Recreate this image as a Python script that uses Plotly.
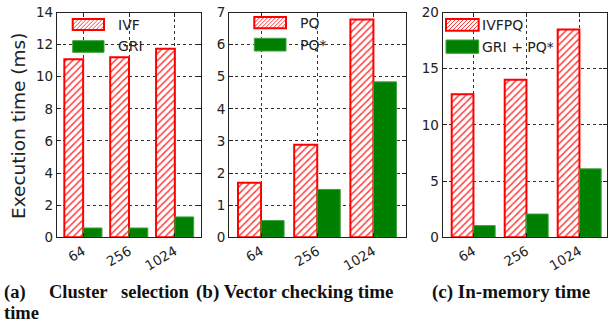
import plotly.graph_objects as go

W, H = 610, 326

categories = ["64", "256", "1024"]

ivf = [11.09, 11.22, 11.74]
gri = [0.58, 0.58, 1.27]

pq = [1.70, 2.88, 6.78]
pq_star = [0.52, 1.49, 4.84]

ivfpq = [12.72, 14.02, 18.49]
gri_pq = [1.04, 2.07, 6.09]

panels = [
    dict(a=ivf, b=gri, na="IVF", nb="GRI", yr=[0, 14], dt=2,
         dom=(57, 201), xr=[-0.57, 2.57],
         leg=dict(x0=72.7, x1=104, ya=(19, 30), yb=(40.7, 52.3), tx=115.7)),
    dict(a=pq, b=pq_star, na="PQ", nb="PQ*", yr=[0, 7], dt=1,
         dom=(229.3, 406), xr=[-0.565, 2.58],
         leg=dict(x0=254.3, x1=286, ya=(17, 28.3), yb=(38.3, 51), tx=297.7)),
    dict(a=ivfpq, b=gri_pq, na="IVFPQ", nb="GRI + PQ*", yr=[0, 20], dt=5,
         dom=(442.7, 607), xr=[-0.58, 2.52],
         leg=dict(x0=446, x1=478.7, ya=(19, 30.7), yb=(40, 53.3), tx=479.5)),
]

RED = "#ff0000"
GREEN = "#008000"
GREEN_EDGE = "#3da03d"
TICKFONT = dict(family="DejaVu Sans", size=13.5, color="#222")

fig = go.Figure()
shapes = []
annotations = []


def px(x):
    return x / W


def py(y):
    return 1 - y / H


def hatch_path(x0, y0, x1, y1, step=4.0):
    segs = []
    c = x0 + y0 + step / 2
    while c < x1 + y1:
        xa = max(x0, c - y1)
        xb = min(x1, c - y0)
        if xb > xa:
            segs.append(f"M{px(xa):.5f},{py(c - xa):.5f} L{px(xb):.5f},{py(c - xb):.5f}")
        c += step
    return " ".join(segs)


y_top, y_bot = 12.5, 237.3

for i, p in enumerate(panels, start=1):
    xa = "x" if i == 1 else f"x{i}"
    ya = "y" if i == 1 else f"y{i}"
    fig.add_trace(go.Bar(
        x=categories, y=p["a"], name=p["na"], xaxis=xa, yaxis=ya,
        marker=dict(color="white", line=dict(color=RED, width=2),
                    pattern=dict(shape="/", fgcolor=RED, bgcolor="white",
                                 size=5, solidity=0.3, fgopacity=0.75)),
        showlegend=False,
    ))
    fig.add_trace(go.Bar(
        x=categories, y=p["b"], name=p["nb"], xaxis=xa, yaxis=ya,
        marker=dict(color=GREEN, line=dict(color=GREEN_EDGE, width=1)),
        showlegend=False,
    ))
    axcommon = dict(showline=True, linecolor="#222", linewidth=1.3, mirror="ticks",
                    ticks="inside", ticklen=4, tickcolor="#222",
                    showgrid=True, gridcolor="#333", griddash="dot", gridwidth=1,
                    zeroline=False, automargin=False, tickfont=TICKFONT)
    xkey = "xaxis" if i == 1 else f"xaxis{i}"
    ykey = "yaxis" if i == 1 else f"yaxis{i}"
    fig.update_layout({
        xkey: dict(domain=[px(p["dom"][0]), px(p["dom"][1])], anchor=ya,
                   type="category", range=p["xr"], tickangle=-30, **axcommon),
        ykey: dict(domain=[py(y_bot), py(y_top)], anchor=xa,
                   range=p["yr"], dtick=p["dt"], **axcommon),
    })
    L = p["leg"]
    # hatched legend patch
    shapes.append(dict(type="rect", xref="paper", yref="paper",
                       x0=px(L["x0"]), x1=px(L["x1"]), y0=py(L["ya"][1]), y1=py(L["ya"][0]),
                       fillcolor="white", line=dict(width=0)))
    shapes.append(dict(type="path", xref="paper", yref="paper",
                       path=hatch_path(L["x0"], L["ya"][0], L["x1"], L["ya"][1]),
                       line=dict(color=RED, width=1), opacity=0.75))
    shapes.append(dict(type="rect", xref="paper", yref="paper",
                       x0=px(L["x0"]), x1=px(L["x1"]), y0=py(L["ya"][1]), y1=py(L["ya"][0]),
                       fillcolor="rgba(0,0,0,0)", line=dict(color=RED, width=2)))
    shapes.append(dict(type="rect", xref="paper", yref="paper",
                       x0=px(L["x0"]), x1=px(L["x1"]), y0=py(L["yb"][1]), y1=py(L["yb"][0]),
                       fillcolor=GREEN, line=dict(color=GREEN_EDGE, width=1)))
    annotations.append(dict(text=p["na"], xref="paper", yref="paper", showarrow=False,
                            x=px(L["tx"]), y=py((L["ya"][0] + L["ya"][1]) / 2),
                            xanchor="left", yanchor="middle",
                            font=dict(family="DejaVu Sans", size=14, color="#222")))
    annotations.append(dict(text=p["nb"], xref="paper", yref="paper", showarrow=False,
                            x=px(L["tx"]), y=py((L["yb"][0] + L["yb"][1]) / 2),
                            xanchor="left", yanchor="middle",
                            font=dict(family="DejaVu Sans", size=14, color="#222")))

# y-axis title
annotations.append(dict(text="Execution time (ms)", xref="paper", yref="paper", showarrow=False,
                        x=px(18), y=py(126), textangle=-90, xanchor="center", yanchor="middle",
                        font=dict(family="DejaVu Sans", size=18.5, color="#222")))

# captions
CAP = dict(family="Liberation Serif", size=18.5, color="#111")
captions = [
    ("(a)", 2, 292, "left"),
    ("Cluster", 47, 292, "left"),
    ("selection", 192, 292, "right"),
    ("(b) Vector checking time", 194, 292, "left"),
    ("(c) In-memory time", 430, 292, "left"),
    ("time", 2, 313, "left"),
]
for t, x, y, anc in captions:
    annotations.append(dict(text=f"<b>{t}</b>", xref="paper", yref="paper", showarrow=False,
                            x=px(x), y=py(y), xanchor=anc, yanchor="middle",
                            font=dict(CAP, size=19) if t.startswith("(b)") or t.startswith("(c)") else CAP))

fig.update_layout(
    width=W, height=H, template="none",
    margin=dict(l=0, r=0, t=0, b=0, pad=0),
    paper_bgcolor="white", plot_bgcolor="white",
    barmode="group", bargap=0.18, bargroupgap=0,
    shapes=shapes, annotations=annotations, showlegend=False,
)

fig.write_html("out.html", config={"displayModeBar": False},
               post_script="document.body.style.margin='0px';document.body.style.padding='0px';")
